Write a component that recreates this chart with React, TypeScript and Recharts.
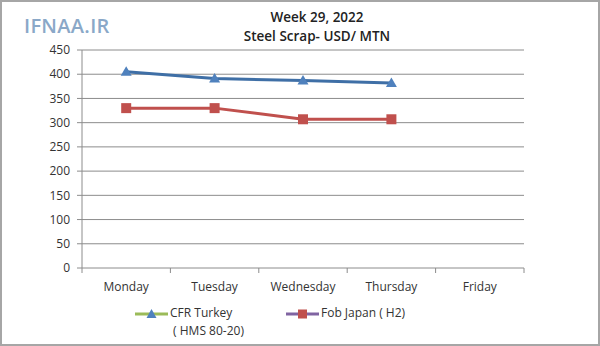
import { CartesianGrid, LineChart, Line, XAxis, YAxis } from "recharts";

const DAYS = ["Monday", "Tuesday", "Wednesday", "Thursday", "Friday"];
const CFR_TURKEY = [405, 391, 387, 382, null];
const FOB_JAPAN = [330, 330, 307, 307, null];
const Y_TICKS = [0, 50, 100, 150, 200, 250, 300, 350, 400, 450];

const FONT = "'Open Sans', 'Liberation Sans', sans-serif";
const INK = "#333";
const GRID = "#8c8c8c";
const TURKEY = "#3f6fa6";
const TURKEY_MARK = "#4f81bd";
const JAPAN = "#c0504d";

// categories sit at half positions so tick marks can go on the boundaries
const data = DAYS.map((day, i) => ({
  pos: i + 0.5,
  day,
  turkey: CFR_TURKEY[i],
  japan: FOB_JAPAN[i],
}));
const X_TICKS = [0, 0.5, 1, 1.5, 2, 2.5, 3, 3.5, 4, 4.5, 5];

function DayTick(props: any) {
  const { x, y, payload } = props;
  const v = payload.value as number;
  if (Number.isInteger(v)) {
    return <line x1={x} x2={x} y1={y - 15} y2={y - 10} stroke={GRID} />;
  }
  return (
    <text x={x} y={y + 8} textAnchor="middle" fill={INK} fontSize={12} fontFamily={FONT}>
      {DAYS[Math.floor(v)]}
    </text>
  );
}

function Triangle(props: any) {
  const { cx, cy } = props;
  if (cx == null || cy == null) return null;
  return <path d={`M${cx},${cy - 5.5} L${cx + 5.5},${cy + 4} L${cx - 5.5},${cy + 4} Z`} fill={TURKEY_MARK} />;
}

function Square(props: any) {
  const { cx, cy } = props;
  if (cx == null || cy == null) return null;
  return <rect x={cx - 5} y={cy - 5} width={10} height={10} fill={JAPAN} />;
}

function LegendKey({ line, marker }: { line: string; marker: "tri" | "sq" }) {
  return (
    <svg width={33} height={12} style={{ display: "block" }}>
      <line x1={0} x2={33} y1={6} y2={6} stroke={line} strokeWidth={3} />
      {marker === "tri" ? (
        <path d="M16.5,1 L21.5,10 L11.5,10 Z" fill={TURKEY_MARK} />
      ) : (
        <rect x={12} y={1.5} width={9} height={9} fill={JAPAN} />
      )}
    </svg>
  );
}

export default function App() {
  return (
    <div
      style={{
        position: "fixed",
        left: 0,
        top: 0,
        width: 600,
        height: 346,
        boxSizing: "border-box",
        border: "2px solid #a6a6a6",
        background: "#fff",
        fontFamily: FONT,
      }}
    >
      <div
        style={{
          position: "absolute",
          left: 22,
          top: 10,
          fontSize: 20,
          fontWeight: 600,
          color: "#8aa8c8",
          letterSpacing: 0.3,
        }}
      >
        IFNAA.IR
      </div>
      <div
        style={{
          position: "absolute",
          left: 200,
          width: 230,
          top: 6,
          textAlign: "center",
          fontSize: 13.5,
          fontWeight: 600,
          color: "#222",
          lineHeight: "19px",
        }}
      >
        <div>Week 29, 2022</div>
        <div>Steel Scrap- USD/ MTN</div>
      </div>
      <div style={{ position: "absolute", left: -2, top: -2 }}>
        <LineChart width={600} height={346} data={data} margin={{ top: 50, right: 76, bottom: 48, left: 0 }}>
          <CartesianGrid vertical={false} stroke={GRID} horizontalValues={Y_TICKS.slice(1)} />
          <XAxis
            type="number"
            dataKey="pos"
            domain={[0, 5]}
            ticks={X_TICKS}
            interval={0}
            height={30}
            tickLine={false}
            tickSize={5}
            tickMargin={10}
            axisLine={{ stroke: GRID }}
            tick={<DayTick />}
          />
          <YAxis
            domain={[0, 450]}
            ticks={Y_TICKS}
            interval={0}
            width={82}
            tickSize={5}
            tickMargin={7}
            axisLine={{ stroke: GRID }}
            tickLine={{ stroke: GRID }}
            tick={{ fill: INK, fontSize: 12, fontFamily: FONT }}
          />
          <Line
            dataKey="turkey"
            stroke={TURKEY}
            strokeWidth={3}
            dot={<Triangle />}
            activeDot={false}
            isAnimationActive={false}
          />
          <Line
            dataKey="japan"
            stroke={JAPAN}
            strokeWidth={3}
            dot={<Square />}
            activeDot={false}
            isAnimationActive={false}
          />
        </LineChart>
      </div>
      <div style={{ position: "absolute", left: 133, top: 302, fontSize: 12, color: INK, display: "flex" }}>
        <div style={{ display: "flex", alignItems: "flex-start" }}>
          <div style={{ marginTop: 4 }}>
            <LegendKey line="#9bbb59" marker="tri" />
          </div>
          <div style={{ marginLeft: 2, lineHeight: "18px" }}>
            CFR Turkey
            <br />
            &nbsp;( HMS 80-20)
          </div>
        </div>
        <div style={{ display: "flex", alignItems: "flex-start", marginLeft: 42 }}>
          <div style={{ marginTop: 4 }}>
            <LegendKey line="#8064a2" marker="sq" />
          </div>
          <div style={{ marginLeft: 2, lineHeight: "18px" }}>Fob Japan ( H2)</div>
        </div>
      </div>
    </div>
  );
}
